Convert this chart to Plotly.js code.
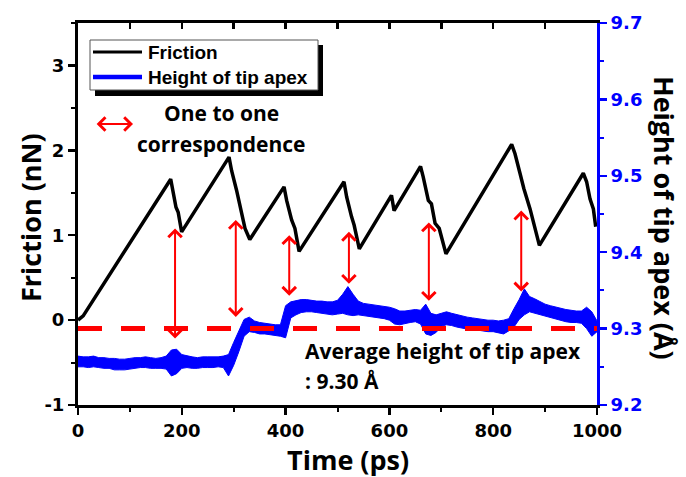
<!DOCTYPE html>
<html>
<head>
<meta charset="utf-8">
<script src="https://cdn.plot.ly/plotly-3.0.1.min.js"></script>
<style>html,body{margin:0;padding:0;background:#fff;}#chart{width:686px;height:477px;}</style>
</head>
<body>
<div id="chart"></div>
<script>
// Friction (nN) vs time (ps)
const frictionTime = [0, 5, 10, 178.6, 183.7, 188.8, 193, 199.7, 291, 296, 305.5, 312, 321.8, 331, 397, 402, 411.6, 418, 426, 512.5, 517.7, 527, 532, 542, 604, 609, 660, 665, 675, 681, 688, 696, 709, 835.6, 842, 851.6, 859, 871, 880.5, 889, 973.6, 980, 986.5, 993, 997.5];
const frictionValue = [0.0, 0.02, 0.05, 1.66, 1.49, 1.33, 1.27, 1.04, 1.92, 1.76, 1.53, 1.33, 1.08, 0.95, 1.57, 1.41, 1.18, 1.08, 0.81, 1.63, 1.45, 1.22, 1.12, 0.84, 1.47, 1.29, 1.81, 1.69, 1.41, 1.37, 1.14, 1.08, 0.78, 2.07, 1.96, 1.73, 1.55, 1.31, 1.06, 0.88, 1.73, 1.63, 1.43, 1.31, 1.10];

// Height of tip apex (Å): upper and lower edges of the noisy band, every 10 ps
const heightTime = [0,10,20,30,40,50,60,70,80,90,100,110,120,130,140,150,160,170,180,190,200,210,220,230,240,250,260,270,280,290,300,310,320,330,340,350,360,370,380,390,400,410,420,430,440,450,460,470,480,490,500,510,520,530,540,550,560,570,580,590,600,610,620,630,640,650,660,670,680,690,700,710,720,730,740,750,760,770,780,790,800,810,820,830,840,850,860,870,880,890,900,910,920,930,940,950,960,970,980,990,1000];
const heightUpper = [9.264,9.263,9.263,9.264,9.262,9.262,9.261,9.261,9.260,9.260,9.261,9.262,9.262,9.263,9.262,9.261,9.262,9.264,9.272,9.273,9.266,9.264,9.263,9.262,9.263,9.263,9.263,9.263,9.264,9.266,9.282,9.296,9.312,9.315,9.310,9.308,9.307,9.306,9.305,9.305,9.330,9.335,9.337,9.338,9.338,9.337,9.336,9.336,9.335,9.335,9.337,9.345,9.355,9.345,9.336,9.333,9.332,9.331,9.330,9.329,9.328,9.326,9.323,9.323,9.324,9.325,9.324,9.332,9.320,9.318,9.320,9.322,9.320,9.318,9.316,9.315,9.314,9.313,9.312,9.311,9.311,9.310,9.311,9.313,9.326,9.338,9.352,9.342,9.339,9.335,9.332,9.330,9.328,9.326,9.325,9.324,9.323,9.323,9.328,9.322,9.310];
const heightLower = [9.250,9.250,9.249,9.250,9.249,9.248,9.248,9.246,9.246,9.246,9.247,9.248,9.249,9.249,9.248,9.248,9.248,9.247,9.238,9.241,9.248,9.249,9.248,9.248,9.249,9.249,9.249,9.250,9.249,9.238,9.252,9.270,9.290,9.296,9.295,9.293,9.293,9.292,9.291,9.290,9.288,9.314,9.318,9.321,9.322,9.322,9.321,9.320,9.319,9.318,9.319,9.320,9.318,9.317,9.318,9.317,9.316,9.315,9.314,9.313,9.311,9.306,9.305,9.307,9.308,9.309,9.306,9.293,9.291,9.295,9.303,9.305,9.304,9.302,9.301,9.299,9.298,9.298,9.297,9.296,9.296,9.294,9.293,9.297,9.302,9.312,9.318,9.322,9.320,9.319,9.316,9.314,9.312,9.310,9.309,9.308,9.308,9.307,9.300,9.290,9.296];

// Average height line
const averageTime = [0, 1000];
const averageHeight = [9.30, 9.30];

// One-to-one correspondence arrows (friction axis units)
const arrowTime = [187, 304, 407, 522, 676, 854];
const arrowTop = [1.08, 1.18, 1.00, 1.04, 1.15, 1.29];
const arrowBottom = [-0.235, 0.02, 0.27, 0.41, 0.21, 0.32];
const keyArrowTime = [33, 106];
const keyArrowValue = 2.31;

// Tick labels and legend entries
const frictionTicks = [-1, 0, 1, 2, 3];
const frictionTickText = ['-1', '0', '1', '2', '3'];
const legendNames = ['Friction', 'Height of tip apex'];
const legendColors = ['#000000', '#0000ff'];

const tickFont = {family: 'DejaVu Sans', size: 18, weight: 700, color: '#000'};
const titleFont = {family: 'Open Sans', size: 27, weight: 700, color: '#000'};
const noteFont = {family: 'Open Sans', size: 21, weight: 700, color: '#000'};

const traces = [
  {x: frictionTime, y: frictionValue, type: 'scatter', mode: 'lines', name: legendNames[0],
   line: {color: legendColors[0], width: 3.5}, xaxis: 'x', yaxis: 'y', hoverinfo: 'skip'},
  {x: heightTime, y: heightLower, type: 'scatter', mode: 'lines', name: legendNames[1],
   line: {color: legendColors[1], width: 1}, xaxis: 'x', yaxis: 'y2', hoverinfo: 'skip'},
  {x: heightTime, y: heightUpper, type: 'scatter', mode: 'lines', name: legendNames[1],
   fill: 'tonexty', fillcolor: legendColors[1],
   line: {color: legendColors[1], width: 1}, xaxis: 'x', yaxis: 'y2', hoverinfo: 'skip'},
  {x: averageTime, y: averageHeight, type: 'scatter', mode: 'lines', name: 'Average height',
   line: {color: '#ff0000', width: 5, dash: '24px,19px'}, xaxis: 'x3', yaxis: 'y2', hoverinfo: 'skip'}
];

// pixel -> paper helpers (plot area: x 78..597, y 23..405)
const px = function (v) { return (v - 78) / 519; };
const py = function (v) { return (405 - v) / 382; };

const annotations = [];
for (let i = 0; i < arrowTime.length; i++) {
  annotations.push({
    x: arrowTime[i], y: arrowTop[i], ax: arrowTime[i], ay: arrowBottom[i],
    xref: 'x', yref: 'y', axref: 'x', ayref: 'y', text: '', showarrow: true,
    arrowside: 'end+start', arrowhead: 4, startarrowhead: 4, arrowsize: 1.3, startarrowsize: 1.3,
    arrowwidth: 2, arrowcolor: '#ff0000', standoff: 0, startstandoff: 0
  });
}
annotations.push({
  x: keyArrowTime[1], y: keyArrowValue, ax: keyArrowTime[0], ay: keyArrowValue,
  xref: 'x', yref: 'y', axref: 'x', ayref: 'y', text: '', showarrow: true,
  arrowside: 'end+start', arrowhead: 4, startarrowhead: 4, arrowsize: 1.3, startarrowsize: 1.3,
  arrowwidth: 2, arrowcolor: '#ff0000', standoff: 0, startstandoff: 0
});
annotations.push(
  {x: px(222), y: py(113), xref: 'paper', yref: 'paper', text: 'One to one', showarrow: false, font: noteFont, xanchor: 'center', yanchor: 'middle'},
  {x: px(222), y: py(144), xref: 'paper', yref: 'paper', text: 'correspondence', showarrow: false, font: noteFont, xanchor: 'center', yanchor: 'middle'},
  {x: px(303), y: py(351), xref: 'paper', yref: 'paper', text: 'Average height of tip apex', showarrow: false, font: noteFont, xanchor: 'left', yanchor: 'middle'},
  {x: px(303), y: py(381), xref: 'paper', yref: 'paper', text: ': 9.30 Å', showarrow: false, font: noteFont, xanchor: 'left', yanchor: 'middle'},
  {x: px(30), y: py(218), xref: 'paper', yref: 'paper', text: 'Friction (nN)', showarrow: false, font: titleFont, textangle: -90, xanchor: 'center', yanchor: 'middle'},
  {x: px(348), y: py(459), xref: 'paper', yref: 'paper', text: 'Time (ps)', showarrow: false, font: titleFont, xanchor: 'center', yanchor: 'middle'},
  {x: px(665), y: py(218), xref: 'paper', yref: 'paper', text: 'Height of tip apex (Å)', showarrow: false, font: titleFont, textangle: 90, xanchor: 'center', yanchor: 'middle'}
);

// legend box (with drop shadow), drawn as shapes + text
const legendRowY = [52, 77];
const shapes = [
  {type: 'rect', xref: 'paper', yref: 'paper', layer: 'above', x0: px(95), x1: px(323), y0: py(96), y1: py(45),
   fillcolor: '#000', line: {width: 0}},
  {type: 'rect', xref: 'paper', yref: 'paper', layer: 'above', x0: px(90), x1: px(318), y0: py(90), y1: py(40),
   fillcolor: '#fff', line: {color: '#555', width: 1}}
];
for (let i = 0; i < legendNames.length; i++) {
  shapes.push({type: 'line', xref: 'paper', yref: 'paper', layer: 'above',
    x0: px(93), x1: px(142), y0: py(legendRowY[i]), y1: py(legendRowY[i]),
    line: {color: legendColors[i], width: i === 0 ? 3 : 4.5}});
  annotations.push({x: px(146), y: py(legendRowY[i]), xref: 'paper', yref: 'paper', text: legendNames[i],
    showarrow: false, xanchor: 'left', yanchor: 'middle',
    font: {family: 'Liberation Sans', size: 19, weight: 700, color: '#000'}});
}

const layout = {
  width: 686, height: 477,
  margin: {l: 78, r: 89, t: 23, b: 72, pad: 0},
  paper_bgcolor: '#fff', plot_bgcolor: '#fff',
  showlegend: false,
  xaxis: {range: [0, 1000], dtick: 200, tick0: 0, showline: true, linecolor: '#000', linewidth: 3,
    ticks: 'outside', ticklen: 7, tickwidth: 2.5, tickcolor: '#000', showgrid: false, zeroline: false,
    tickfont: tickFont, minor: {dtick: 100, ticks: 'outside', ticklen: 4, tickwidth: 2, tickcolor: '#000'}},
  xaxis3: {range: [0, 1000], overlaying: 'x', side: 'top', dtick: 100, tick0: 0, showline: true,
    linecolor: '#000', linewidth: 3, ticks: 'inside', ticklen: 6, tickwidth: 2.5, tickcolor: '#000',
    showticklabels: false, showgrid: false, zeroline: false},
  yaxis: {range: [-1, 3.5], tickmode: 'array', tickvals: frictionTicks, ticktext: frictionTickText,
    showline: true, linecolor: '#000', linewidth: 3,
    ticks: 'outside', ticklen: 7, tickwidth: 2.5, tickcolor: '#000', showgrid: false, zeroline: false,
    tickfont: tickFont, minor: {dtick: 0.5, tick0: 0, ticks: 'outside', ticklen: 4, tickwidth: 2, tickcolor: '#000'}},
  yaxis2: {range: [9.2, 9.7], dtick: 0.1, tick0: 9.2, overlaying: 'y', side: 'right', showline: true,
    linecolor: '#0000ff', linewidth: 3, ticks: 'outside', ticklen: 7, tickwidth: 2.5, tickcolor: '#0000ff',
    showgrid: false, zeroline: false, tickformat: '.1f',
    tickfont: {family: 'DejaVu Sans', size: 18, weight: 700, color: '#0000ff'},
    minor: {dtick: 0.05, ticks: 'outside', ticklen: 4, tickwidth: 2, tickcolor: '#0000ff'}},
  shapes: shapes,
  annotations: annotations
};

Plotly.newPlot('chart', traces, layout, {displayModeBar: false, staticPlot: true});
</script>
</body>
</html>
